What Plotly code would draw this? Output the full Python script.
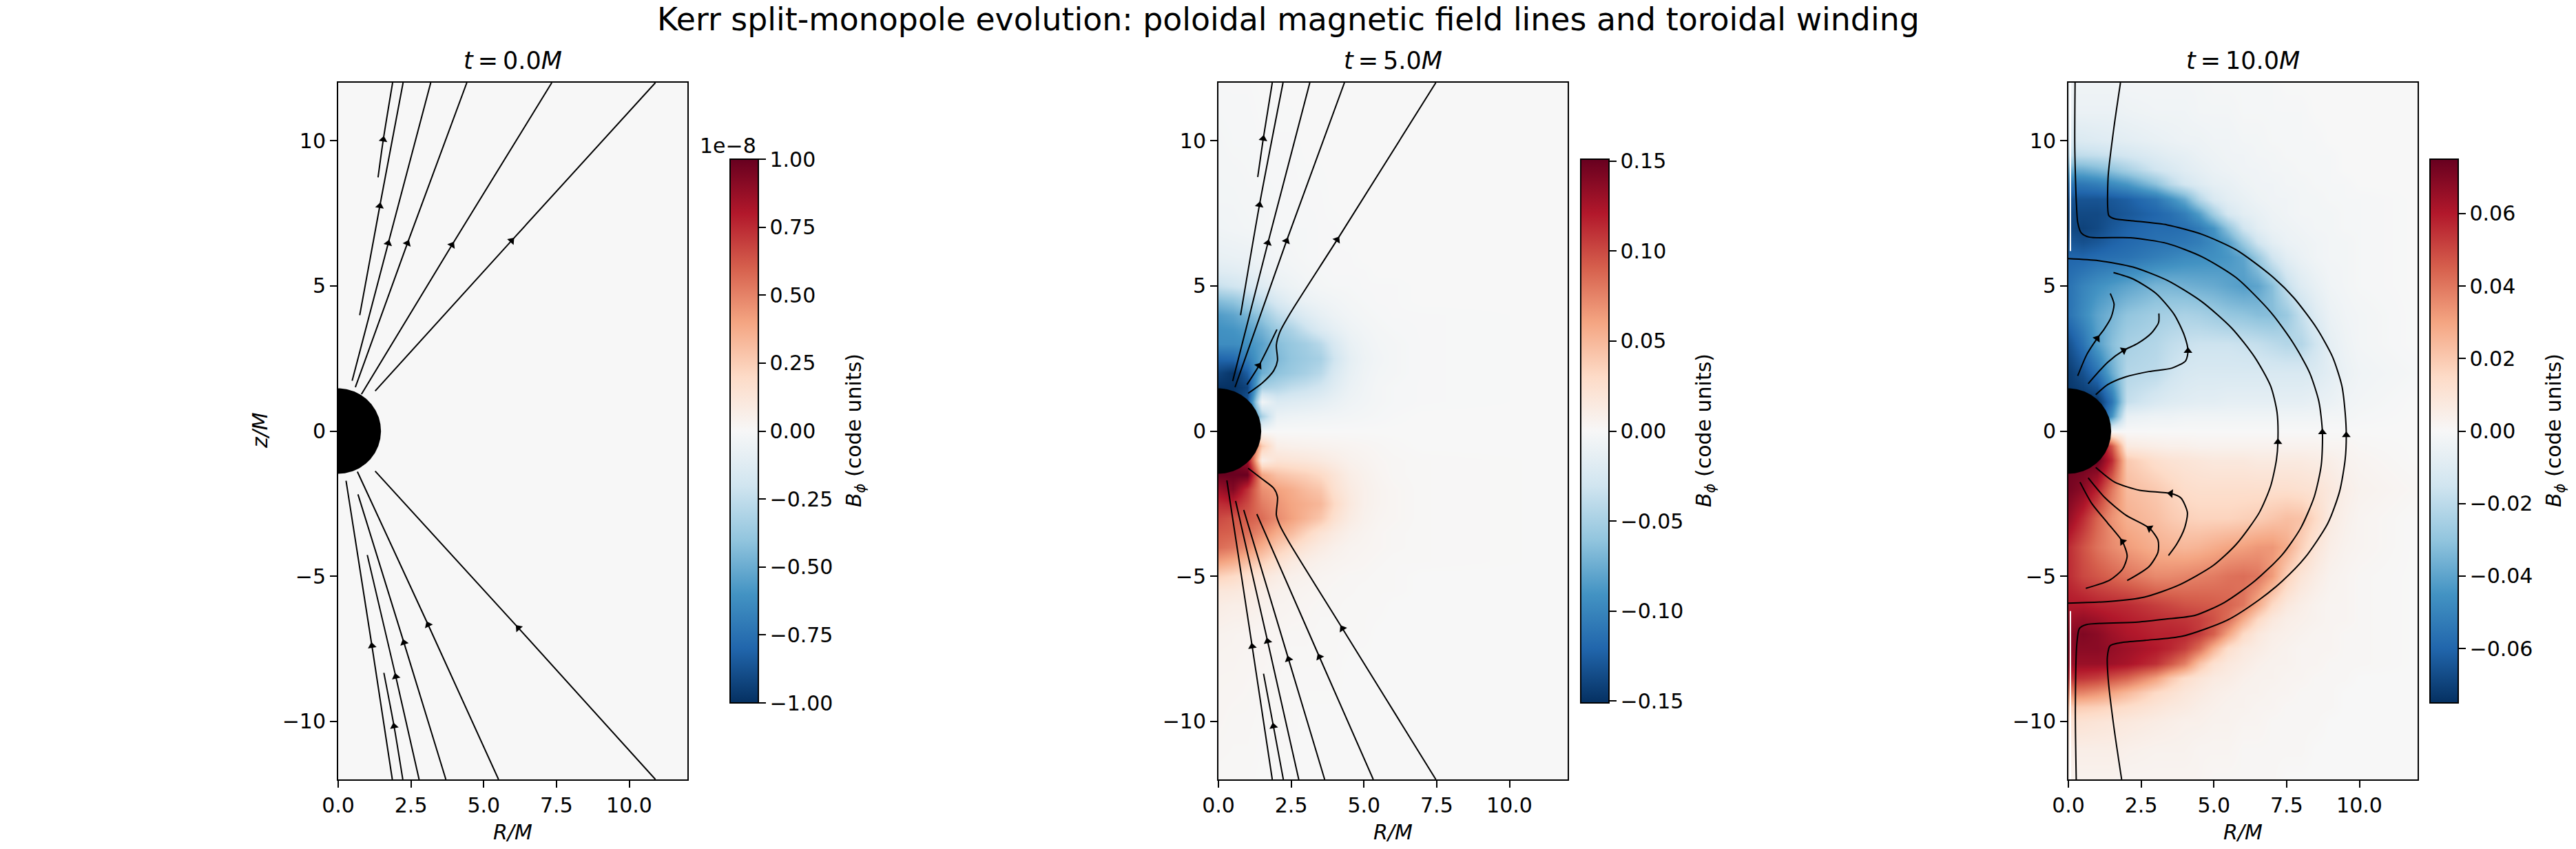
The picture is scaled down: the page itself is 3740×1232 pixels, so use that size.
# Kerr split-monopole evolution - poloidal field lines + toroidal B_phi maps
import numpy as np
import plotly.graph_objects as go

# -----------------------------
# CONFIG
# -----------------------------
W, H = 3740, 1232
FONT = "DejaVu Sans"
TICK_SIZE = 30
TITLE_SIZE = 35
SUPTITLE_SIZE = 45.8
HORIZON = 1.47

AX_LEFT = [491, 1769, 3003]
AX_WIDTH = 507
AX_TOP, AX_BOTTOM = 120, 1131
CB_LEFT = [1060, 2295, 3528]
CB_WIDTH = 41
CB_TOP, CB_BOTTOM = 231, 1020
LABEL_X = [1241, 2475, 3709]

PANEL_TITLES = ["<i>t</i>\u2009=\u20090.0<i>M</i>", "<i>t</i>\u2009=\u20095.0<i>M</i>", "<i>t</i>\u2009=\u200910.0<i>M</i>"]
SUPTITLE = "Kerr split-monopole evolution: poloidal magnetic field lines and toroidal winding"

X_TICKS = [0, 2.5, 5, 7.5, 10]
Y_TICKS = [-10, -5, 0, 5, 10]
CB_TICKS_T0 = [-1, -0.75, -0.5, -0.25, 0, 0.25, 0.5, 0.75, 1]
CB_TICKS_T5 = [-0.15, -0.10, -0.05, 0, 0.05, 0.10, 0.15]
CB_TICKS_T10 = [-0.06, -0.04, -0.02, 0, 0.02, 0.04, 0.06]
CB_MAX = [1.0, 0.151, 0.075]

RDBU_R = [
    [0.0, "#053061"], [0.1, "#2166ac"], [0.2, "#4393c3"], [0.3, "#92c5de"],
    [0.4, "#d1e5f0"], [0.5, "#f7f7f7"], [0.6, "#fddbc7"], [0.7, "#f4a582"],
    [0.8, "#d6604d"], [0.9, "#b2182b"], [1.0, "#67001f"],
]

# -----------------------------
# B_phi maps (in 1e-3 code units)
# -----------------------------
T0_R = [0, 12]
T0_Z = [-12, 12]
T0_BPHI = [[0, 0], [0, 0]]

T5_R = [0, 0.5, 1, 1.5, 2, 2.5, 3, 3.5, 4, 4.5, 5, 5.5, 6, 7, 12]
T5_Z = [12, 10, 8, 7, 6, 5.5, 5, 4.5, 4, 3.5, 3, 2.5, 2, 1.5, 1, 0.5, 0,
        -0.5, -1, -1.5, -2, -2.5, -3, -3.5, -4, -4.5, -5, -5.5, -6, -7, -8, -10, -12]
T5_BPHI = [
    [-1, -1, -1, 0, 0, 0, 0, 0, 0, 0, 0, 0, 0, 0, 0],
    [-3, -2, -2, -1, -1, -1, 0, 0, 0, 0, 0, 0, 0, 0, 0],
    [-4, -4, -3, -3, -2, -1, -1, -1, 0, 0, 0, 0, 0, 0, 0],
    [-6, -5, -4, -3, -2, -2, -2, -1, -1, 0, 0, 0, 0, 0, 0],
    [-12, -11, -10, -7, -4, -3, -2, -1, -1, -1, 0, 0, 0, 0, 0],
    [-20, -18, -15, -11, -7, -5, -3, -2, -1, -1, -1, 0, 0, 0, 0],
    [-35, -30, -25, -20, -12, -8, -5, -3, -2, -2, -1, -1, -1, 0, 0],
    [-65, -60, -50, -38, -24, -15, -10, -7, -5, -3, -2, -1, -1, 0, 0],
    [-85, -80, -70, -58, -40, -30, -20, -13, -8, -5, -3, -2, -1, -1, 0],
    [-92, -90, -84, -72, -56, -48, -34, -22, -14, -8, -5, -3, -2, -1, 0],
    [-95, -95, -92, -82, -65, -58, -52, -42, -24, -12, -7, -4, -3, -1, 0],
    [-120, -118, -105, -80, -68, -60, -55, -50, -30, -15, -8, -5, -3, -1, 0],
    [-140, -148, -125, -75, -62, -56, -50, -42, -24, -13, -7, -4, -3, -1, 0],
    [-150, -150, -140, -50, -45, -38, -34, -28, -18, -10, -6, -3, -2, -1, 0],
    [-150, -150, -130, -5, -22, -20, -18, -15, -11, -7, -5, -3, -2, -1, 0],
    [-150, -150, -130, -50, -10, -8, -7, -6, -5, -4, -3, -2, -1, 0, 0],
    [0, 0, 0, 0, 0, 0, 0, 0, 0, 0, 0, 0, 0, 0, 0],
    [150, 150, 130, 40, 10, 8, 7, 6, 5, 4, 3, 2, 1, 0, 0],
    [150, 150, 130, 10, 22, 20, 18, 15, 11, 7, 5, 3, 2, 1, 0],
    [150, 150, 150, 60, 45, 40, 36, 30, 20, 11, 7, 4, 2, 1, 0],
    [130, 140, 110, 70, 62, 56, 48, 42, 24, 14, 8, 5, 3, 1, 0],
    [112, 115, 100, 78, 68, 60, 55, 50, 30, 16, 8, 5, 3, 1, 0],
    [100, 95, 92, 85, 72, 62, 52, 42, 24, 13, 7, 4, 3, 1, 0],
    [92, 90, 84, 72, 56, 48, 34, 22, 14, 8, 5, 3, 2, 1, 0],
    [85, 80, 70, 55, 40, 30, 20, 13, 8, 5, 4, 3, 2, 1, 0],
    [62, 56, 46, 36, 24, 15, 10, 7, 5, 4, 3, 2, 1, 1, 0],
    [35, 30, 24, 18, 12, 8, 6, 4, 3, 2, 2, 1, 1, 0, 0],
    [18, 17, 14, 10, 7, 5, 4, 3, 2, 2, 1, 1, 1, 0, 0],
    [12, 10, 10, 7, 5, 4, 3, 2, 2, 1, 1, 1, 0, 0, 0],
    [6, 5, 4, 3, 3, 2, 2, 1, 1, 1, 1, 0, 0, 0, 0],
    [4, 4, 3, 3, 2, 1, 1, 1, 1, 0, 0, 0, 0, 0, 0],
    [3, 2, 2, 1, 1, 1, 0, 0, 0, 0, 0, 0, 0, 0, 0],
    [1, 1, 1, 0, 0, 0, 0, 0, 0, 0, 0, 0, 0, 0, 0],
]

T10_R = [0, 0.5, 1, 1.5, 2, 3, 3.5, 4, 4.5, 5, 5.5, 6, 6.5, 7, 7.5, 8, 8.5, 9, 9.5, 10, 12]
T10_Z = [12, 11, 10, 9.5, 9, 8.5, 8, 7.5, 7, 6.5, 6, 5, 4, 3, 2, 1, 0.5, 0,
         -0.5, -1, -2, -3, -4, -5, -6, -6.5, -7, -7.5, -8, -8.5, -9, -9.5, -10, -11, -12]
T10_BPHI = [
    [-3, -3, -3, -3, -2, -2, -2, -2, -2, -1, -1, -1, -1, -1, 0, 0, 0, 0, 0, 0, 0],
    [-5, -5, -5, -5, -4, -3, -3, -3, -2, -2, -2, -1, -1, -1, -1, -1, 0, 0, 0, 0, 0],
    [-12, -11, -10, -9, -8, -6, -5, -4, -4, -3, -3, -2, -2, -1, -1, -1, -1, 0, 0, 0, 0],
    [-20, -19, -18, -16, -14, -10, -8, -7, -5, -4, -3, -3, -2, -2, -1, -1, -1, -1, 0, 0, 0],
    [-38, -37, -34, -30, -25, -15, -12, -9, -7, -5, -4, -3, -3, -2, -2, -1, -1, -1, 0, 0, 0],
    [-55, -54, -52, -48, -44, -31, -21, -14, -10, -7, -6, -4, -3, -3, -2, -2, -1, -1, -1, 0, 0],
    [-65, -65, -65, -64, -62, -55, -47, -38, -22, -12, -8, -6, -4, -3, -3, -2, -2, -1, -1, -1, 0],
    [-68, -68, -68, -66, -64, -60, -57, -52, -42, -26, -13, -8, -6, -4, -3, -2, -2, -2, -1, -1, 0],
    [-68, -70, -68, -64, -61, -58, -58, -57, -53, -45, -30, -15, -8, -5, -4, -3, -2, -2, -1, -1, 0],
    [-64, -66, -64, -61, -59, -56, -55, -54, -52, -48, -42, -28, -15, -8, -5, -4, -3, -2, -2, -1, 0],
    [-60, -60, -58, -57, -56, -52, -50, -48, -47, -46, -44, -40, -28, -15, -8, -5, -3, -2, -2, -1, 0],
    [-56, -50, -46, -43, -40, -35, -35, -36, -37, -38, -40, -42, -40, -32, -18, -10, -6, -3, -2, -1, 0],
    [-56, -48, -40, -35, -30, -26, -25, -24, -25, -27, -29, -30, -32, -32, -28, -18, -10, -5, -3, -2, 0],
    [-66, -56, -42, -32, -25, -22, -19, -17, -16, -16, -16, -17, -18, -20, -22, -22, -15, -7, -4, -2, 0],
    [-72, -66, -56, -38, -22, -20, -16, -13, -12, -12, -12, -12, -12, -12, -12, -12, -11, -8, -5, -3, -1],
    [-74, -74, -74, -55, -18, -12, -10, -9, -8, -8, -7, -7, -7, -7, -7, -7, -6, -5, -3, -2, 0],
    [-74, -74, -74, -45, -6, -4, -4, -3, -3, -3, -3, -3, -3, -3, -3, -3, -3, -2, -2, -1, 0],
    [0, 0, 0, 0, 0, 0, 0, 0, 0, 0, 0, 0, 0, 0, 0, 0, 0, 0, 0, 0, 0],
    [74, 74, 74, 47, 7, 5, 4, 4, 3, 3, 3, 3, 3, 3, 3, 3, 3, 2, 2, 1, 0],
    [74, 74, 74, 56, 20, 13, 11, 10, 9, 8, 8, 8, 7, 7, 7, 7, 6, 5, 3, 2, 0],
    [72, 68, 58, 40, 24, 20, 17, 14, 13, 13, 13, 13, 13, 13, 13, 12, 11, 8, 5, 3, 1],
    [66, 56, 44, 34, 27, 23, 20, 18, 17, 17, 17, 18, 19, 21, 23, 22, 15, 7, 4, 2, 0],
    [56, 48, 41, 36, 32, 27, 26, 25, 26, 28, 30, 31, 33, 33, 28, 18, 10, 5, 3, 2, 0],
    [56, 50, 47, 44, 41, 36, 36, 37, 38, 39, 41, 42, 40, 32, 18, 10, 6, 3, 2, 1, 0],
    [60, 60, 58, 57, 56, 52, 50, 48, 47, 46, 44, 40, 28, 15, 8, 5, 3, 2, 2, 1, 0],
    [64, 66, 64, 61, 59, 56, 55, 54, 52, 48, 42, 28, 15, 8, 5, 4, 3, 2, 2, 1, 0],
    [68, 70, 68, 64, 61, 58, 58, 57, 53, 45, 30, 15, 8, 5, 4, 3, 2, 2, 1, 1, 0],
    [68, 68, 68, 66, 64, 60, 57, 52, 42, 26, 13, 8, 6, 4, 3, 2, 2, 2, 1, 1, 0],
    [65, 65, 65, 64, 62, 55, 47, 38, 22, 12, 8, 6, 4, 3, 3, 2, 2, 1, 1, 1, 0],
    [55, 54, 52, 48, 44, 31, 21, 14, 10, 7, 6, 4, 3, 3, 2, 2, 1, 1, 1, 0, 0],
    [38, 37, 34, 30, 25, 15, 12, 9, 7, 5, 4, 3, 3, 2, 2, 1, 1, 1, 0, 0, 0],
    [20, 19, 18, 16, 14, 10, 8, 7, 5, 4, 3, 3, 2, 2, 1, 1, 1, 1, 0, 0, 0],
    [12, 11, 10, 9, 8, 6, 5, 4, 4, 3, 3, 2, 2, 1, 1, 1, 1, 0, 0, 0, 0],
    [5, 5, 5, 5, 4, 3, 3, 3, 2, 2, 2, 1, 1, 1, 1, 1, 0, 0, 0, 0, 0],
    [3, 3, 3, 3, 2, 2, 2, 2, 2, 1, 1, 1, 1, 1, 0, 0, 0, 0, 0, 0, 0],
]

# -----------------------------
# Field lines: R list, z list
# -----------------------------
T0_LINES = [
    ([1.37, 1.55, 1.87], [8.74, 10.04, 12]),
    ([0.74, 1.43, 2.23], [3.99, 7.75, 12]),
    ([0.48, 1.72, 3.18], [1.73, 6.47, 12]),
    ([0.59, 2.38, 4.42], [1.51, 6.47, 12]),
    ([0.80, 3.91, 7.34], [1.27, 6.41, 12]),
    ([1.27, 5.96, 10.9], [1.38, 6.56, 12]),
    ([0.27, 1.16, 1.86], [-1.71, -7.4, -12]),
    ([1.57, 1.92, 2.22], [-8.33, -10.17, -12]),
    ([1.00, 1.98, 2.78], [-4.27, -8.46, -12]),
    ([0.68, 2.26, 3.70], [-2.18, -7.29, -12]),
    ([0.66, 3.09, 5.51], [-1.40, -6.67, -12]),
    ([1.27, 6.19, 10.9], [-1.38, -6.78, -12]),
]
T0_ARROW_R = [1.55, 1.43, 1.72, 2.38, 3.91, 5.96, 1.16, 1.92, 1.98, 2.26, 3.09, 6.19]
T0_ARROW_Z = [10.04, 7.75, 6.47, 6.47, 6.41, 6.56, -7.4, -10.17, -8.46, -7.29, -6.67, -6.78]
T0_ARROW_ANGLE = [9, 10, 15, 24, 31, 42, -9, -10, -13, -17, -25, -42]

T5_LINES = [
    ([1.35, 1.54, 1.85], [8.75, 10.07, 12]),
    ([0.76, 1.41, 2.22], [3.99, 7.79, 12]),
    ([0.49, 1.70, 3.14], [1.72, 6.48, 12]),
    ([0.57, 2.34, 4.33], [1.51, 6.55, 12]),
    ([0.98, 1.39, 2.01], [1.6, 2.25, 3.5]),
    ([1.02, 1.50, 1.90, 2.03, 1.99, 2.11, 2.45, 4.08, 7.47],
     [1.30, 1.65, 2.08, 2.43, 2.96, 3.41, 4.03, 6.59, 12]),
    ([0.29, 1.16, 1.85], [-1.70, -7.42, -12]),
    ([1.55, 1.89, 2.23], [-8.36, -10.17, -12]),
    ([0.59, 1.69, 2.76], [-2.41, -7.24, -12]),
    ([0.87, 2.41, 3.65], [-2.72, -7.86, -12]),
    ([1.32, 3.47, 5.32], [-2.86, -7.78, -12]),
    ([1.02, 1.50, 1.90, 2.03, 1.99, 2.11, 2.45, 4.26, 7.47],
     [-1.28, -1.65, -1.97, -2.27, -2.89, -3.25, -3.87, -6.80, -12]),
]
T5_ARROW_R = [1.54, 1.41, 1.70, 2.34, 1.39, 4.08, 1.16, 1.89, 1.69, 2.41, 3.47, 4.26]
T5_ARROW_Z = [10.07, 7.79, 6.48, 6.55, 2.25, 6.59, -7.42, -10.17, -7.24, -7.86, -7.78, -6.8]
T5_ARROW_ANGLE = [9, 10, 15, 23, 35, 32, -9, -10, -13, -17, -27, -32]

T10_LINES = [
    ([0.23, 0.22, 0.25, 0.28, 0.32, 0.44, 0.72, 2.14, 3.4, 4.58, 5.77, 6.95, 7.74, 8.29, 8.61, 8.73,
      8.69, 8.45, 7.98, 7.35, 6.4, 5.37, 4.35, 3.32, 2.38, 0.61, 0.38, 0.29, 0.24, 0.27],
     [12, 9.89, 8.5, 7.74, 7.19, 6.83, 6.68, 6.66, 6.46, 6.01, 5.28, 4.1, 3.01, 2.01, 1.01, -0.04,
      -1.17, -2.26, -3.35, -4.26, -5.17, -5.9, -6.35, -6.48, -6.58, -6.67, -6.8, -7.33, -9.64, -12]),
    ([1.79, 1.56, 1.37, 1.35, 1.39, 1.59, 2.22, 3.4, 4.58, 5.77, 6.95, 7.74, 8.53, 9.08, 9.4, 9.51, 9.55,
      9.51, 9.32, 8.92, 8.14, 7.35, 6.56, 5.45, 3.91, 2.64, 1.75, 1.43, 1.34, 1.37, 1.56, 1.83],
     [12, 10.42, 8.82, 7.74, 7.42, 7.31, 7.24, 7.1, 6.78, 6.24, 5.37, 4.6, 3.55, 2.55, 1.55, 0.65, -0.14,
      -0.99, -2.08, -3.17, -4.35, -5.17, -5.81, -6.52, -7.07, -7.21, -7.3, -7.4, -7.78, -8.57, -10.17, -12]),
    ([0, 1.03, 2.22, 3.4, 4.58, 5.61, 6.4, 6.95, 7.17, 7.2, 7.15, 6.95, 6.56, 5.77, 4.98, 3.79, 2.61, 1.43, 0],
     [5.94, 5.87, 5.65, 5.19, 4.46, 3.55, 2.55, 1.55, 0.65, -0.38, -0.99, -1.9, -2.81, -3.9, -4.63, -5.31,
      -5.72, -5.87, -5.93]),
    ([1.55, 2.22, 3.01, 3.64, 3.99, 4.11, 4.03, 3.56, 2.77, 1.98, 1.35, 0.94],
     [5.46, 5.24, 4.74, 4.01, 3.28, 2.76, 2.42, 2.17, 2.05, 1.87, 1.6, 1.25]),
    ([3.11, 3.1, 2.85, 2.37, 1.9, 1.35, 0.68], [4.05, 3.74, 3.37, 3.01, 2.78, 2.37, 1.63]),
    ([1.44, 1.57, 1.47, 1.23, 0.99, 0.64, 0.32], [4.74, 4.37, 3.92, 3.51, 3.19, 2.65, 1.9]),
    ([0.94, 1.59, 2.45, 3.52, 3.87, 4.09, 3.99, 3.72, 3.44],
     [-1.25, -1.76, -2.04, -2.15, -2.31, -2.81, -3.35, -3.9, -4.29]),
    ([0.68, 1.27, 1.98, 2.79, 3.08, 3.08, 2.77, 2.02],
     [-1.61, -2.31, -2.9, -3.35, -3.76, -4.17, -4.67, -5.15]),
    ([0.4, 0.8, 1.35, 1.86, 2.02, 1.86, 1.43, 0.6],
     [-1.76, -2.49, -3.17, -3.81, -4.31, -4.76, -5.13, -5.42]),
]
T10_ARROW_R = [0.99, 1.9, 4.11, 7.2, 8.73, 9.55, 3.52, 2.79, 1.86]
T10_ARROW_Z = [3.19, 2.78, 2.76, -0.38, -0.04, -0.14, -2.15, -3.35, -3.81]
T10_ARROW_ANGLE = [35, 60, 0, 0, 0, 0, -85, -60, -40]

# white slivers next to the axis in the last panel
T10_GAP_R = [0.07, 0.07]
T10_GAP_UP_Z = [6.2, 12]
T10_GAP_DOWN_Z = [-6.2, -12]


# -----------------------------
# Helpers
# -----------------------------
def px_x(x):
    return x / W


def px_y(y):
    return 1 - y / H


def add_label(fig, x, y, text, size, angle=0, xanchor="center"):
    fig.add_annotation(
        x=px_x(x), y=px_y(y), xref="paper", yref="paper", showarrow=False,
        xanchor=xanchor, yanchor="middle", textangle=angle, text=text,
        font=dict(family=FONT, size=size, color="black"),
    )


def add_panel(fig, idx, x, y, z, cb_ticks, lines, arrow_r, arrow_z, arrow_angle, zsmooth):
    ax = "" if idx == 0 else str(idx + 1)
    fig.add_trace(go.Heatmap(
        x=x, y=y, z=z, xaxis=f"x{ax}", yaxis=f"y{ax}",
        colorscale=RDBU_R, zmin=-CB_MAX[idx], zmax=CB_MAX[idx], zsmooth=zsmooth,
        colorbar=dict(
            x=px_x(CB_LEFT[idx]), xanchor="left", xpad=0,
            y=px_y((CB_TOP + CB_BOTTOM) / 2), yanchor="middle", ypad=0,
            len=(CB_BOTTOM - CB_TOP) / H, lenmode="fraction",
            thickness=CB_WIDTH, thicknessmode="pixels",
            outlinecolor="black", outlinewidth=2,
            tickmode="array", tickvals=cb_ticks, tickformat=".2f",
            ticks="outside", ticklen=10, tickwidth=2, tickcolor="black",
            tickfont=dict(family=FONT, size=TICK_SIZE, color="black"),
        ),
    ))
    for line_r, line_z in lines:
        fig.add_trace(go.Scatter(
            x=line_r, y=line_z, xaxis=f"x{ax}", yaxis=f"y{ax}", mode="lines",
            line=dict(color="black", width=2, shape="spline", smoothing=0.7),
        ))
    fig.add_trace(go.Scatter(
        x=arrow_r, y=arrow_z, xaxis=f"x{ax}", yaxis=f"y{ax}", mode="markers",
        marker=dict(symbol="triangle-up", size=11, color="black", angle=arrow_angle, line=dict(width=0)),
    ))
    theta = np.linspace(-np.pi / 2, np.pi / 2, 181)
    fig.add_trace(go.Scatter(
        x=HORIZON * np.cos(theta), y=HORIZON * np.sin(theta), xaxis=f"x{ax}", yaxis=f"y{ax}",
        mode="lines", fill="toself", fillcolor="black", line=dict(color="black", width=0),
    ))
    common = dict(
        showline=True, linecolor="black", linewidth=2, mirror=True, showgrid=False, zeroline=False,
        ticks="outside", ticklen=10, tickwidth=2, tickcolor="black",
        tickfont=dict(family=FONT, size=TICK_SIZE, color="black"),
    )
    fig.update_layout({
        f"xaxis{ax}": dict(
            domain=[px_x(AX_LEFT[idx]), px_x(AX_LEFT[idx] + AX_WIDTH)], range=[0, 12], anchor=f"y{ax}",
            tickmode="array", tickvals=X_TICKS, tickformat=".1f",
            **common,
        ),
        f"yaxis{ax}": dict(
            domain=[px_y(AX_BOTTOM), px_y(AX_TOP)], range=[-12, 12], anchor=f"x{ax}",
            tickmode="array", tickvals=Y_TICKS,
            **common,
        ),
    })
    center = AX_LEFT[idx] + AX_WIDTH / 2
    add_label(fig, center, 1207, "<i>R/M</i>", TICK_SIZE)
    add_label(fig, center, 88, PANEL_TITLES[idx], TITLE_SIZE)
    add_label(fig, LABEL_X[idx], 625, "<i>B</i><sub><i>ϕ</i></sub> (code units)", TICK_SIZE, angle=-90)


# -----------------------------
# Figure
# -----------------------------
fig = go.Figure()
add_panel(fig, 0, T0_R, T0_Z, T0_BPHI, CB_TICKS_T0, T0_LINES,
          T0_ARROW_R, T0_ARROW_Z, T0_ARROW_ANGLE, False)
add_panel(fig, 1, T5_R, T5_Z, np.array(T5_BPHI) / 1000, CB_TICKS_T5, T5_LINES,
          T5_ARROW_R, T5_ARROW_Z, T5_ARROW_ANGLE, "best")
add_panel(fig, 2, T10_R, T10_Z, np.array(T10_BPHI) / 1000, CB_TICKS_T10, T10_LINES,
          T10_ARROW_R, T10_ARROW_Z, T10_ARROW_ANGLE, "best")

for gap_z in (T10_GAP_UP_Z, T10_GAP_DOWN_Z):
    fig.add_trace(go.Scatter(x=T10_GAP_R, y=gap_z, xaxis="x3", yaxis="y3", mode="lines",
                             line=dict(color="white", width=2)))

add_label(fig, W / 2, 28, SUPTITLE, SUPTITLE_SIZE)
add_label(fig, 1100, 212, "1e−8", TICK_SIZE, xanchor="right")
add_label(fig, 377, 625, "<i>z/M</i>", TICK_SIZE, angle=-90)

fig.update_layout(
    width=W, height=H, margin=dict(l=0, r=0, t=0, b=0, autoexpand=False), showlegend=False,
    paper_bgcolor="white", plot_bgcolor="white",
)

# browsers add an 8px body margin, the page has to start at the corner
fig.write_html("out.html", config={"displayModeBar": False}, post_script="document.body.style.margin = '0';")
